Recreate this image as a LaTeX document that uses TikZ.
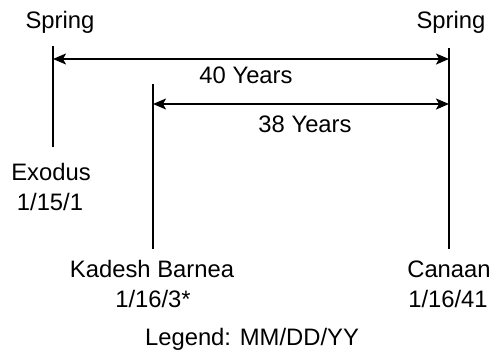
\documentclass[tikz,border=0pt]{standalone}
\usepackage{fontspec}
\setmainfont{Liberation Sans}
\usetikzlibrary{arrows.meta}
\begin{document}
\begin{tikzpicture}[x=1pt,y=-1pt,
  lbl/.style={anchor=base,inner sep=0pt,font=\fontsize{23.8}{27}\selectfont},
  bar/.style={line width=1.8pt},
  span/.style={line width=1.8pt,{Stealth[length=13pt,width=11pt,inset=3pt]}-{Stealth[length=13pt,width=11pt,inset=3pt]}}]
\useasboundingbox (0,0) rectangle (494,351);
% vertical bars
\coordinate (exTop) at (53,46);
\coordinate (exBot) at (53,147);
\coordinate (kbTop) at (153,84);
\coordinate (kbBot) at (153,249);
\coordinate (caTop) at (449,48);
\coordinate (caBot) at (449,249);
\draw[bar] (exTop) -- (exBot);
\draw[bar] (kbTop) -- (kbBot);
\draw[bar] (caTop) -- (caBot);
% arrows
\coordinate (a40l) at (53,59);
\coordinate (a40r) at (449,59);
\coordinate (a38l) at (153,104);
\coordinate (a38r) at (449,104);
\draw[span] (a40l) -- (a40r);
\draw[span] (a38l) -- (a38r);
% labels
\node[lbl] (springL) at (60,28) {Spring};
\node[lbl] (springR) at (451,28) {Spring};
\node[lbl] (y40) at (246,83) {40 Years};
\node[lbl] (y38) at (305,132) {38 Years};
\node[lbl] (exodus) at (51,180) {Exodus};
\node[lbl] (exdate) at (50,210) {1/15/1};
\node[lbl] (kadesh) at (152,277) {Kadesh Barnea};
\node[lbl] (kbdate) at (153,307) {1/16/3*};
\node[lbl] (canaan) at (449,277) {Canaan};
\node[lbl] (cadate) at (448,307) {1/16/41};
\node[lbl] (legend) at (252,345) {Legend: MM/DD/YY};
\end{tikzpicture}
\end{document}
